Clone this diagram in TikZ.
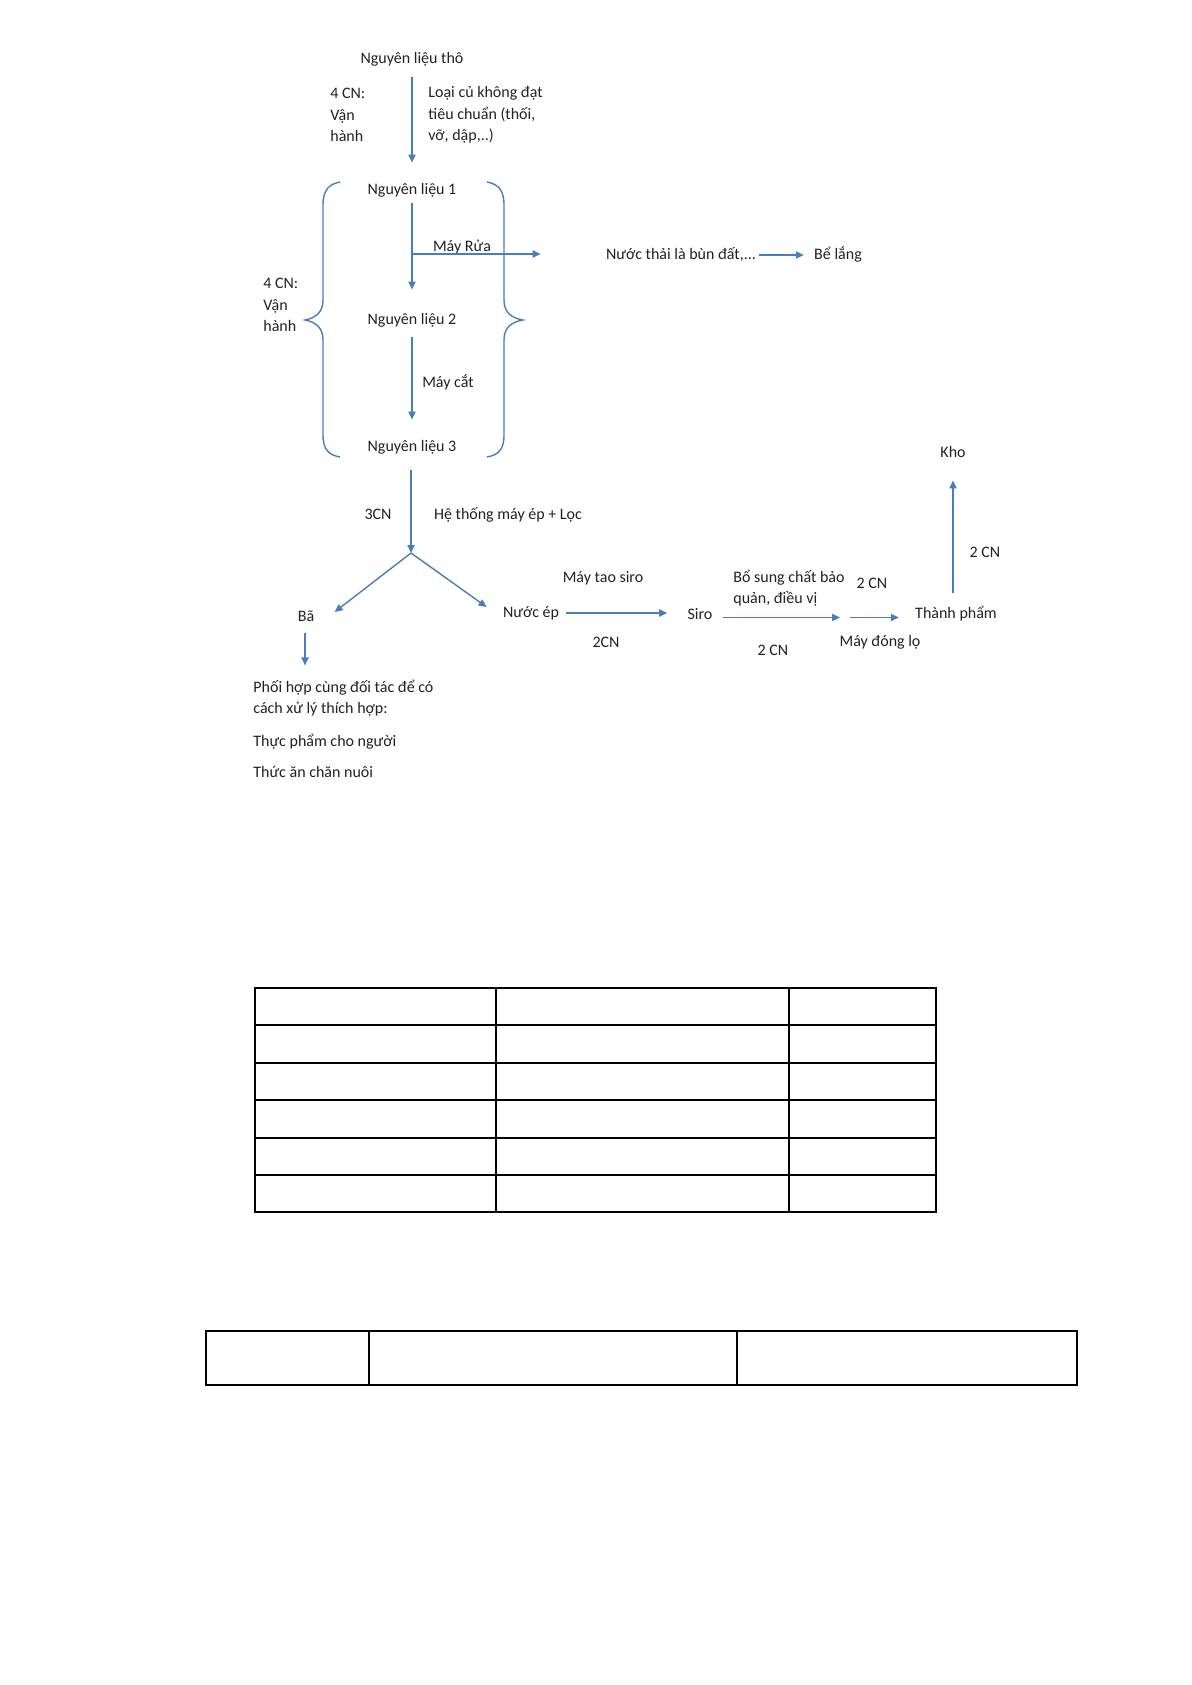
\documentclass[tikz,border=0pt]{standalone}
\usepackage{fontspec}
\setmainfont{Carlito}
\usetikzlibrary{arrows.meta}
\definecolor{arrblue}{HTML}{4A7EBB}
\definecolor{txt}{HTML}{222222}
\begin{document}
\begin{tikzpicture}[x=0.5pt,y=-0.5pt,
  every node/.style={font=\fontsize{8}{10.75}\selectfont, inner sep=0pt, text=txt},
  lbl/.style={text height=6.5pt, text depth=2pt},
  multi/.style={align=left, anchor=west},
  arr/.style={draw=arrblue, line width=0.7pt, -{Triangle[length=4pt,width=3.6pt]}},
  brace/.style={draw=arrblue, line width=0.7pt},
  tbl/.style={draw=black, line width=0.55pt}]
\useasboundingbox[fill=white] (0,0) rectangle (1191,1685);

% ---- nodes
\node[lbl] (raw) at (412,59) {Nguyên liệu thô};
\node[multi] (cnA) at (330,115) {4 CN:\\Vận\\hành};
\node[multi] (loai) at (428,115) {Loại củ không đạt\\tiêu chuẩn (thối,\\vỡ, dập,..)};
\node[lbl] (nl1) at (412,190) {Nguyên liệu 1};
\node[lbl] (mayrua) at (462,247) {Máy Rửa};
\node[lbl] (nuocthai) at (681,255) {Nước thải là bùn đất,...};
\node[lbl] (belang) at (838,255) {Bể lắng};
\node[multi] (cnB) at (263,305) {4 CN:\\Vận\\hành};
\node[lbl] (nl2) at (412,320) {Nguyên liệu 2};
\node[lbl] (maycat) at (448,383) {Máy cắt};
\node[lbl] (nl3) at (412,447) {Nguyên liệu 3};
\node[lbl] (cn3) at (378,515) {3CN};
\node[lbl] (heth) at (508,515) {Hệ thống máy ép + Lọc};
\node[lbl] (ba) at (306,617) {Bã};
\node[lbl] (nuocep) at (531,613) {Nước ép};
\node[multi] (phoi) at (253,698) {Phối hợp cùng đối tác để có\\cách xử lý thích hợp:};
\node[lbl, anchor=west] (tp1) at (253,742) {Thực phẩm cho người};
\node[lbl, anchor=west] (tp2) at (253,773) {Thức ăn chăn nuôi};
\node[lbl] (maytao) at (603,578) {Máy tao siro};
\node[lbl] (cn2a) at (606,643) {2CN};
\node[lbl] (siro) at (700,615) {Siro};
\node[multi] (bosung) at (733,588) {Bổ sung chất bảo\\quản, điều vị};
\node[lbl] (cn2b) at (872,584) {2 CN};
\node[lbl] (cn2c) at (773,651) {2 CN};
\node[lbl] (maydong) at (880,642) {Máy đóng lọ};
\node[lbl] (tp) at (956,614) {Thành phẩm};
\node[lbl] (kho) at (953,453) {Kho};
\node[lbl] (cn2d) at (985,553) {2 CN};

\coordinate (wash) at (412,254);
\coordinate (split) at (411,553);
\coordinate (bott) at (845,617.5);

% ---- connectors
\draw[arr, shorten <=4.75pt, shorten >=9.25pt] (raw) -- (nl1);
\draw[arr, shorten <=2.25pt, shorten >=10.75pt] (nl1) -- (nl2);
\draw[arr, shorten >=32.5pt] (wash) -- (wash -| nuocthai.west);
\draw[arr, shorten <=1.5pt, shorten >=5pt] (nuocthai) -- (belang);
\draw[arr, shorten <=4.25pt, shorten >=9.25pt] (nl2) -- (nl3);
\draw[arr, shorten <=7.25pt] (nl3.south -| split) -- (split);
\draw[arr] (split) -- ([xshift=10pt,yshift=2.5pt]ba.east);
\draw[arr] (split) -- ([xshift=-8pt,yshift=3pt]nuocep.west);
\draw[arr, shorten <=3.75pt] ([xshift=-0.5pt]ba.south) -- ++(0,39.5);
\draw[arr, shorten <=3.5pt, shorten >=10pt] (nuocep.east) -- (nuocep.east -| siro.west);
\draw[arr, shorten <=5pt, shorten >=2.5pt] (siro.east |- bott) -- (bott);
\draw[arr, shorten <=2.5pt, shorten >=8pt] (bott) -- (bott -| tp.west);
\draw[arr, shorten <=6.25pt, shorten >=9.25pt] (tp.north -| kho) -- (kho.south);

% ---- braces
\draw[brace] (340,182) .. controls (329,184) and (323,190) .. (323,205) -- (323,300)
  .. controls (323,312) and (316,318) .. (305,320)
  .. controls (316,322) and (323,328) .. (323,340) -- (323,435)
  .. controls (323,450) and (329,455) .. (340,457);
\draw[brace] (487,182) .. controls (498,184) and (504,190) .. (504,205) -- (504,300)
  .. controls (504,312) and (511,318) .. (523,320)
  .. controls (511,322) and (504,328) .. (504,340) -- (504,435)
  .. controls (504,450) and (498,455) .. (487,457);

% ---- table 1
\draw[tbl] (255,988) rectangle (936,1212);
\foreach \yy in {1025,1063,1100,1138,1175} \draw[tbl] (255,\yy) -- (936,\yy);
\foreach \xx in {496,789} \draw[tbl] (\xx,988) -- (\xx,1212);

% ---- table 2
\draw[tbl] (206,1331) rectangle (1077,1385);
\foreach \xx in {369,737} \draw[tbl] (\xx,1331) -- (\xx,1385);
\end{tikzpicture}
\end{document}
